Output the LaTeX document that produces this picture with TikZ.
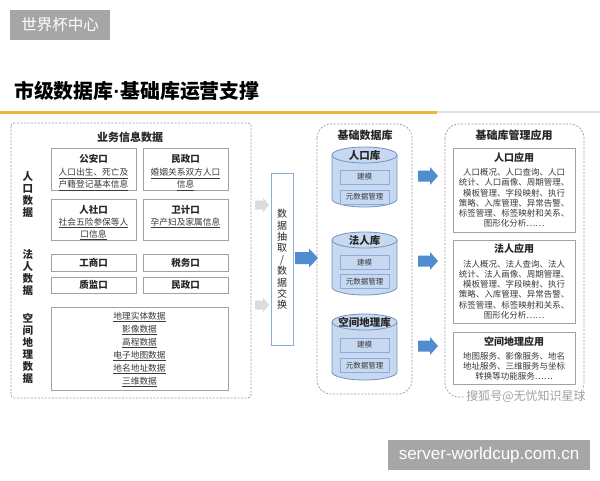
\documentclass[tikz,border=0pt]{standalone}
\usepackage{fontspec}
\setmainfont{Noto Sans CJK SC}
\newfontfamily\latinsans{Liberation Sans}
\definecolor{tagGray}{HTML}{A6A6A6}
\definecolor{txtDark}{HTML}{262626}
\definecolor{txtBody}{HTML}{3A3A3A}
\definecolor{lineOrange}{HTML}{EDB53A}
\definecolor{lineLight}{HTML}{E2E2E2}
\definecolor{dashGray}{HTML}{9A9A9A}
\definecolor{boxGray}{HTML}{9EA3AA}
\definecolor{cylFill}{HTML}{C6D9F0}
\definecolor{cylEdge}{HTML}{7393C2}
\definecolor{innerEdge}{HTML}{8EAADB}
\definecolor{arrBlue}{HTML}{4F8DD0}
\definecolor{arrGray}{HTML}{DCDCDC}
\definecolor{wmGray}{HTML}{A0A0A0}
\newcommand\ulx[1]{\underline{#1}}
\newcommand\blockarr[7]{%
  \fill[#7] (#1,#3-#4) -- (#2-#6,#3-#4) -- (#2-#6,#3-#5) -- (#2,#3)
    -- (#2-#6,#3+#5) -- (#2-#6,#3+#4) -- (#1,#3+#4) -- cycle;}
\newcommand\cylshape[4]{% cx, topy, boty, name
  \filldraw[fill=cylFill, draw=cylEdge, line width=0.8pt]
    (#1-32.5,#2) -- (#1-32.5,#3)
    arc[start angle=180, end angle=360, x radius=32.5pt, y radius=8pt]
    -- (#1+32.5,#2)
    arc[start angle=0, end angle=180, x radius=32.5pt, y radius=8pt] -- cycle;
  \draw[cylEdge, line width=0.8pt] (#1-32.5,#2)
    arc[start angle=180, end angle=360, x radius=32.5pt, y radius=8pt];
  \coordinate (#4) at (#1,#2);}
\begin{document}
\begin{tikzpicture}[x=1pt,y=-1pt,
  graytag/.style={fill=tagGray, text=white, inner sep=0pt},
  panel/.style={draw=dashGray, line width=0.7pt, dash pattern=on 2pt off 1.5pt},
  sectitle/.style={font=\bfseries\fontsize{11}{12}\selectfont, text=txtDark},
  sidelbl/.style={font=\bfseries\fontsize{10.5}{12}\selectfont, text=txtDark, align=center, inner sep=0pt},
  lbox/.style={draw=boxGray, line width=0.8pt, fill=white, inner sep=0pt},
  btitle/.style={font=\bfseries\fontsize{9.5}{11}\selectfont, text=txtDark, inner sep=0pt},
  ltext/.style={font=\fontsize{8.7}{12.3}\selectfont, text=txtBody, align=center, inner sep=0pt},
  innerbox/.style={draw=innerEdge, line width=0.7pt, fill=cylFill, minimum width=49pt, minimum height=14pt, inner sep=0pt, font=\fontsize{7.5}{8}\selectfont, text=txtBody},
  cyltitle/.style={font=\bfseries\fontsize{10.5}{11}\selectfont, text=txtDark, inner sep=0pt},
  rbox/.style={draw=boxGray, line width=0.8pt, fill=white, minimum width=122pt, inner sep=0pt},
  rtitle/.style={font=\bfseries\fontsize{10}{11}\selectfont, text=txtDark, inner sep=0pt},
  rtext/.style={font=\fontsize{8.5}{10.2}\selectfont, text=txtBody, align=center, inner sep=0pt}
]
\useasboundingbox (0,0) rectangle (600,480);
\fill[white] (0,0) rectangle (600,480);

% header
\node[graytag, minimum width=100pt, minimum height=30pt, font=\fontsize{15.5}{16}\selectfont] (tag) at (60,25) {世界杯中心};
\node[anchor=west, inner sep=0pt, font=\bfseries\fontsize{19.9}{20}\selectfont, text=black] (title) at (14,91) {市级数据库{\latinsans\bfseries ·}基础库运营支撑};
\draw[lineLight, line width=1.6pt] (437,112) -- (600,112);
\draw[lineOrange, line width=3pt] (0,112) -- (437,112);

% ---------------- left panel ----------------
\draw[panel, rounded corners=3pt] (11,123) rectangle (251,398);
\node[sectitle] (bizT) at (130,137) {业务信息数据};

\node[sidelbl] (lblPop) at (28,195) {人\\口\\数\\据};
\node[sidelbl] (lblCorp) at (28,273) {法\\人\\数\\据};
\node[sidelbl] (lblGeo) at (28,348) {空\\间\\地\\理\\数\\据};

% population boxes
\node[lbox, minimum width=85pt, minimum height=42pt] (gaBox) at (93.5,169) {};
\node[btitle] (gaT) at (93.5,159) {公安口};
\node[ltext] (gaX) at (93.5,179.5) {\ulx{人口出生、死亡及}\\\ulx{户籍登记基本信息}};

\node[lbox, minimum width=85pt, minimum height=42pt] (mzBox) at (185.5,169) {};
\node[btitle] (mzT) at (185.5,159) {民政口};
\node[ltext] (mzX) at (185.5,179.5) {\ulx{婚姻关系双方人口}\\\ulx{信息}};

\node[lbox, minimum width=85pt, minimum height=41pt] (rsBox) at (93.5,219.5) {};
\node[btitle] (rsT) at (93.5,209.5) {人社口};
\node[ltext] (rsX) at (93.5,229) {\ulx{社会五险参保等人}\\\ulx{口信息}};

\node[lbox, minimum width=85pt, minimum height=41pt] (wjBox) at (185.5,219.5) {};
\node[btitle] (wjT) at (185.5,209.5) {卫计口};
\node[ltext] (wjX) at (185.5,223) {\ulx{孕产妇及家属信息}};

% corporate boxes
\node[lbox, minimum width=85pt, minimum height=17pt, font=\bfseries\fontsize{9.5}{11}\selectfont, text=txtDark] (gsBox) at (93.5,262.5) {工商口};
\node[lbox, minimum width=85pt, minimum height=17pt, font=\bfseries\fontsize{9.5}{11}\selectfont, text=txtDark] (swBox) at (185.5,262.5) {税务口};
\node[lbox, minimum width=85pt, minimum height=16pt, font=\bfseries\fontsize{9.5}{11}\selectfont, text=txtDark] (zjBox) at (93.5,285) {质监口};
\node[lbox, minimum width=85pt, minimum height=16pt, font=\bfseries\fontsize{9.5}{11}\selectfont, text=txtDark] (mz2Box) at (185.5,285) {民政口};

% geo box
\node[lbox, minimum width=177pt, minimum height=83pt] (geoBox) at (139.5,348.5) {};
\node[font=\fontsize{8.7}{13}\selectfont, text=txtBody, align=center, inner sep=0pt] (geoX) at (139.5,349.5)
  {\ulx{地理实体数据}\\\ulx{影像数据}\\\ulx{高程数据}\\\ulx{电子地图数据}\\\ulx{地名地址数据}\\\ulx{三维数据}};

% gray arrows
\blockarr{255}{269}{205}{4.5}{7.5}{6}{arrGray}
\blockarr{255}{269}{305}{4.5}{7.5}{6}{arrGray}

% exchange box
\node[draw=innerEdge, line width=0.8pt, fill=white, minimum width=22pt, minimum height=172pt, inner sep=0pt] (exBox) at (282,259) {};
\node[font=\fontsize{10}{11.4}\selectfont, text=txtDark, align=center, inner sep=0pt] (exT) at (282,259.5) {数\\据\\抽\\取\\/\\数\\据\\交\\换};

\blockarr{295}{318}{258}{6}{9.5}{9}{arrBlue}

% ---------------- middle panel ----------------
\draw[panel, rounded corners=14pt] (317,124) rectangle (412,394);
\node[sectitle] (dbT) at (365,135) {基础数据库};

\cylshape{364.5}{155}{199}{cyl1}
\node[cyltitle] (c1T) at (364.5,155) {人口库};
\node[innerbox] (c1a) at (364.5,177) {建模};
\node[innerbox] (c1b) at (364.5,197) {元数据管理};

\cylshape{364.5}{240}{287}{cyl2}
\node[cyltitle] (c2T) at (364.5,240) {法人库};
\node[innerbox] (c2a) at (364.5,262.5) {建模};
\node[innerbox] (c2b) at (364.5,281.5) {元数据管理};

\cylshape{364.5}{322}{372}{cyl3}
\node[cyltitle] (c3T) at (364.5,322.5) {空间地理库};
\node[innerbox] (c3a) at (364.5,345) {建模};
\node[innerbox] (c3b) at (364.5,365.5) {元数据管理};

\blockarr{418}{438}{176}{5.5}{9}{8}{arrBlue}
\blockarr{418}{438}{261}{5.5}{9}{8}{arrBlue}
\blockarr{418}{438}{346}{5.5}{9}{8}{arrBlue}

% ---------------- right panel ----------------
\draw[panel, rounded corners=14pt] (445,124) rectangle (584,397);
\node[sectitle] (appT) at (514,135) {基础库管理应用};

\node[rbox, minimum height=84pt] (popBox) at (514,190) {};
\node[rtitle] (popT) at (514,157.5) {人口应用};
\node[rtext] (popX) at (514,198) {人口概况、人口查询、人口\\统计、人口画像、周期管理、\\模板管理、字段映射、执行\\策略、入库管理、异常告警、\\标签管理、标签映射和关系、\\图形化分析……};

\node[rbox, minimum height=83pt] (corpBox) at (514,281.5) {};
\node[rtitle] (corpT) at (514,249) {法人应用};
\node[rtext] (corpX) at (514,289.5) {法人概况、法人查询、法人\\统计、法人画像、周期管理、\\模板管理、字段映射、执行\\策略、入库管理、异常告警、\\标签管理、标签映射和关系、\\图形化分析……};

\node[rbox, minimum height=52pt] (geoApp) at (514,358) {};
\node[rtitle] (geoAT) at (514,342) {空间地理应用};
\node[rtext] (geoAX) at (514,366.5) {地图服务、影像服务、地名\\地址服务、三维服务与坐标\\转换等功能服务……};

\node[fill=white, inner sep=1pt, text=wmGray, font=\fontsize{12}{13}\selectfont] (wm) at (526,396) {搜狐号@无忧知识星球};

% footer tag
\node[graytag, minimum width=202pt, minimum height=30pt, font=\latinsans\fontsize{17}{18}\selectfont] (site) at (489,455) {server-worldcup.com.cn};
\end{tikzpicture}
\end{document}
